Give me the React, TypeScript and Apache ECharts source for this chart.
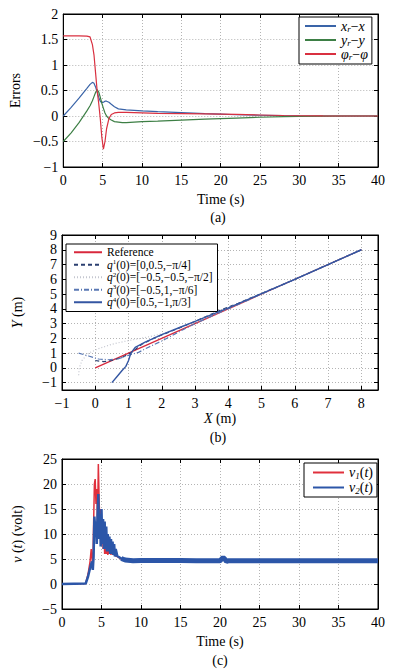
import React, { useEffect, useRef } from "react";
import * as echarts from "echarts";

const FONT = "'Liberation Serif', 'Times New Roman', Times, serif";

// ---------- (a) tracking errors ----------
const timeA = [0, 1, 2, 3, 3.4, 3.7, 3.9, 4.1, 4.3, 4.5, 4.7, 4.9, 5.1, 5.3, 5.5, 5.8, 6.1, 6.5, 7, 7.5, 8, 9, 10, 12, 15, 18, 20, 22, 25, 28, 30, 33, 36, 40];
const errX = [0, 0.17, 0.35, 0.54, 0.62, 0.66, 0.64, 0.57, 0.47, 0.37, 0.29, 0.26, 0.27, 0.29, 0.29, 0.27, 0.23, 0.18, 0.14, 0.13, 0.12, 0.11, 0.1, 0.085, 0.065, 0.045, 0.035, 0.025, 0.015, 0.007, 0.003, 0, 0, 0];
const errY = [-0.5, -0.33, -0.13, 0.1, 0.2, 0.3, 0.38, 0.46, 0.52, 0.47, 0.37, 0.25, 0.15, 0.06, 0, -0.05, -0.08, -0.11, -0.12, -0.13, -0.13, -0.12, -0.11, -0.1, -0.08, -0.06, -0.05, -0.04, -0.025, -0.012, -0.006, -0.002, 0, 0];
const errPhi = [1.57, 1.57, 1.57, 1.565, 1.55, 1.4, 1.2, 0.85, 0.5, 0.25, -0.05, -0.42, -0.65, -0.5, -0.25, -0.05, 0.03, 0.06, 0.07, 0.07, 0.07, 0.065, 0.06, 0.05, 0.045, 0.04, 0.035, 0.03, 0.02, 0.01, 0.005, 0.002, 0, 0];

// ---------- (b) trajectories in the plane ----------
const refX = [0, 8];
const refY = [0, 8];
const q1X = [0, 0.25, 0.5, 0.8, 1.1, 1.4, 1.8, 2.3, 2.8, 3.3, 3.8, 4.3, 5, 6, 8];
const q1Y = [0.5, 0.42, 0.5, 0.7, 1.05, 1.6, 2.05, 2.5, 2.95, 3.45, 3.95, 4.38, 5.04, 6, 8];
const q2X = [-0.5, -0.48, -0.4, -0.2, 0.1, 0.5, 1, 1.5, 2, 2.5, 3, 4, 8];
const q2Y = [-0.5, 0, 0.5, 1.0, 1.3, 1.6, 1.85, 2.05, 2.3, 2.7, 3.15, 4.05, 8];
const q3X = [-0.5, -0.2, 0.1, 0.4, 0.7, 1.0, 1.3, 1.6, 2, 2.5, 3, 4, 8];
const q3Y = [1, 0.8, 0.6, 0.55, 0.62, 0.85, 1.05, 1.4, 1.82, 2.42, 3.0, 4, 8];
const q4X = [0.5, 0.65, 0.8, 0.92, 1.0, 1.07, 1.2, 1.5, 2, 2.5, 3, 3.5, 4, 5, 6, 7, 8];
const q4Y = [-1, -0.6, -0.2, 0.1, 0.5, 1.0, 1.38, 1.75, 2.25, 2.7, 3.15, 3.6, 4.06, 5.03, 6, 7, 8];

// ---------- (c) control voltages ----------
const timeV1 = [0, 3.0, 3.3, 3.55, 3.7, 3.8, 3.9, 4.0, 4.1, 4.2, 4.3, 4.4, 4.5, 4.6, 4.7, 4.8, 4.9, 5.0, 5.1, 5.2, 5.3, 5.4, 5.5, 5.6, 5.7, 5.8, 5.9, 6.0, 6.1, 6.2, 6.3, 6.45, 6.6, 6.8, 7.0, 7.5, 8, 40];
const valV1 = [0, 0.1, 2, 4.5, 7, 5, 3.5, 12, 20, 21, 16, 19, 12, 24, 17, 11, 15, 8, 13, 7, 11, 6, 10.5, 6, 9.5, 5.8, 9, 6, 8.5, 5.8, 7.5, 5.8, 6.8, 5.6, 5.5, 5.0, 4.8, 4.7];
const timeV2 = [0, 3.0, 3.3, 3.6, 3.8, 3.9, 4.0, 4.1, 4.2, 4.3, 4.4, 4.5, 4.6, 4.7, 4.8, 4.9, 5.0, 5.1, 5.2, 5.3, 5.4, 5.5, 5.6, 5.7, 5.8, 5.9, 6.0, 6.1, 6.2, 6.3, 6.4, 6.5, 6.6, 6.7, 6.8, 7.0, 7.3, 7.6, 8.0];
const valV2 = [0, 0.1, 1.5, 3.5, 4.5, 2.8, 5.5, 13.5, 11, 12.5, 8, 14, 18, 9, 14, 7.5, 15, 8, 13, 7, 12.5, 7, 11.5, 6.5, 10, 6.5, 9.5, 6, 9, 6, 8.5, 5.8, 8, 5.5, 7, 5.6, 5.3, 5.0, 4.8];
const timeBand = [7.5, 8, 9, 10, 12, 15, 17, 20, 20.2, 20.4, 20.6, 20.8, 21, 25, 30, 35, 40];
const valBand = [5.1, 4.8, 4.65, 4.68, 4.68, 4.7, 4.65, 4.63, 5.0, 5.3, 5.0, 4.5, 4.63, 4.63, 4.63, 4.63, 4.63];

const pairs = (xs: number[], ys: number[]) => xs.map((x, i) => [x, ys[i]]);
const fmt = (v: number) => String(v).replace("-", "\u2212");

const tickLabel = { color: "#000", fontFamily: FONT, fontSize: 14, formatter: fmt };
const italic = { fontStyle: "italic", fontFamily: FONT, fontSize: 14, color: "#000" };

function xAxes(grid: number, min: number, max: number, interval: number | undefined, name: string, nameGap: number, extra: any = {}) {
  return [
    {
      type: "value", gridIndex: grid, min, max, interval,
      axisLine: { show: true, onZero: false, lineStyle: { color: "#000", width: 1 } },
      axisTick: { inside: true, length: 4, lineStyle: { color: "#000" } },
      axisLabel: { ...tickLabel, margin: 6, ...(extra.axisLabel || {}) },
      splitLine: { show: true, lineStyle: { color: "#b4b4b4", type: [1, 2], width: 1 } },
      name, nameLocation: "middle", nameGap,
      nameTextStyle: { fontFamily: FONT, fontSize: 14, color: "#000", rich: { i: italic } },
    },
    {
      type: "value", gridIndex: grid, position: "top", min, max, interval,
      axisLine: { show: true, onZero: false, lineStyle: { color: "#000", width: 1 } },
      axisTick: { inside: true, length: 4, lineStyle: { color: "#000" } },
      axisLabel: { show: false }, splitLine: { show: false },
    },
  ];
}

function yAxes(grid: number, min: number, max: number, interval: number | undefined, name: string, nameGap: number, extra: any = {}) {
  return [
    {
      type: "value", gridIndex: grid, min, max, interval, ...(extra.axis || {}),
      axisLine: { show: true, onZero: false, lineStyle: { color: "#000", width: 1 } },
      axisTick: { inside: true, length: 4, lineStyle: { color: "#000" } },
      axisLabel: { ...tickLabel, margin: 5, ...(extra.axisLabel || {}) },
      splitLine: { show: true, lineStyle: { color: "#b4b4b4", type: [1, 2], width: 1 } },
      name, nameLocation: "middle", nameGap,
      nameTextStyle: { fontFamily: FONT, fontSize: 14, color: "#000", rich: { i: italic } },
    },
    {
      type: "value", gridIndex: grid, position: "right", min, max, interval, ...(extra.axis || {}),
      axisLine: { show: true, onZero: false, lineStyle: { color: "#000", width: 1 } },
      axisTick: { inside: true, length: 4, lineStyle: { color: "#000" } },
      axisLabel: { show: false }, splitLine: { show: false },
    },
  ];
}

const legendNames: Record<string, string> = {
  xr: "{i|x}{sub|r}\u2212{i|x}",
  yr: "{i|y}{sub|r}\u2212{i|y}",
  phi: "{i|\u03c6}{sub|r}\u2212{i|\u03c6}",
  ref: "Reference",
  q1: "{i|q}{sup|1}(0)=[0,0.5,\u2212\u03c0/4]",
  q2: "{i|q}{sup|2}(0)=[\u22120.5,\u22120.5,\u2212\u03c0/2]",
  q3: "{i|q}{sup|3}(0)=[\u22120.5,1,\u2212\u03c0/6]",
  q4: "{i|q}{sup|4}(0)=[0.5,\u22121,\u03c0/3]",
  v1: "{i|v}{sub|1}({i|t})",
  v2: "{i|v}{sub|2}({i|t})",
};

function legendBox(data: string[], left: number, top: number, itemWidth: number, fontSize: number, lh: number, padding: number[]) {
  const small = Math.round(fontSize * 0.62);
  return {
    data, orient: "vertical", left, top, itemWidth, itemHeight: 8, itemGap: 0, padding,
    selectedMode: false, backgroundColor: "#fff", borderColor: "#000", borderWidth: 1, borderRadius: 0,
    itemStyle: { opacity: 0 },
    formatter: (n: string) => legendNames[n],
    textStyle: {
      fontFamily: FONT, fontSize, color: "#000", lineHeight: lh,
      rich: {
        i: { fontStyle: "italic", fontFamily: FONT, fontSize, color: "#000", lineHeight: lh },
        sub: { fontStyle: "italic", fontFamily: FONT, fontSize: small, color: "#000", lineHeight: small, verticalAlign: "bottom" },
        sup: { fontFamily: FONT, fontSize: small, color: "#000", lineHeight: small, verticalAlign: "top" },
      },
    },
  };
}

const line = (name: string, data: any[], xi: number, yi: number, color: string, width: number, type: any = "solid", z = 2) => ({
  name, type: "line", data, xAxisIndex: xi, yAxisIndex: yi, symbol: "none", showSymbol: false, z,
  lineStyle: { color, width, type }, itemStyle: { color }, clip: true,
});

export default function App() {
  const ref = useRef<HTMLDivElement>(null);
  useEffect(() => {
    document.body.style.margin = "0";
    const chart = echarts.init(ref.current!, null, { renderer: "svg" });
    const option: any = {
      animation: false,
      backgroundColor: "#fff",
      textStyle: { fontFamily: FONT },
      grid: [
        { left: 61, top: 14, width: 317, height: 153, show: true, borderColor: "#000", borderWidth: 1, backgroundColor: "transparent" },
        { left: 62, top: 235, width: 316, height: 155, show: true, borderColor: "#000", borderWidth: 1, backgroundColor: "transparent" },
        { left: 62, top: 459, width: 316, height: 150, show: true, borderColor: "#000", borderWidth: 1, backgroundColor: "transparent" },
      ],
      xAxis: [
        ...xAxes(0, 0, 40, 5, "Time (s)", 25),
        ...xAxes(1, -1, 8.5, 1, "{i|X} (m)", 21, { axisLabel: { showMaxLabel: false } }),
        ...xAxes(2, 0, 40, 5, "Time (s)", 25),
      ],
      yAxis: [
        ...yAxes(0, -1, 2, 0.5, "Errors", 38),
        ...yAxes(1, -1.5, 9, undefined, "{i|Y} (m)", 38, { axis: { splitNumber: 10 }, axisLabel: { showMinLabel: false } }),
        ...yAxes(2, -5, 25, 5, "{i|v} ({i|t}) (volt)", 38),
      ],
      legend: [
        legendBox(["xr", "yr", "phi"], 299, 17, 31, 14, 14, [2, 4, 3, 5]),
        legendBox(["ref", "q1", "q2", "q3", "q4"], 66, 244, 28, 11.5, 12.5, [2, 5, 3, 7]),
        legendBox(["v1", "v2"], 304, 463, 31, 14, 15, [2, 4, 2, 8]),
      ],
      graphic: [
        { type: "text", x: 218, y: 217, style: { text: "(a)", fontSize: 14, fontFamily: FONT, fill: "#000", align: "center", verticalAlign: "middle" } },
        { type: "text", x: 218, y: 437, style: { text: "(b)", fontSize: 14, fontFamily: FONT, fill: "#000", align: "center", verticalAlign: "middle" } },
        { type: "text", x: 220, y: 660, style: { text: "(c)", fontSize: 14, fontFamily: FONT, fill: "#000", align: "center", verticalAlign: "middle" } },
      ],
      series: [
        line("xr", pairs(timeA, errX), 0, 0, "#3a64a8", 1.2),
        line("yr", pairs(timeA, errY), 0, 0, "#3d7f45", 1.2),
        line("phi", pairs(timeA, errPhi), 0, 0, "#d93040", 1.2),

        line("ref", pairs(refX, refY), 2, 2, "#d8283c", 1.2, "solid", 2),
        line("q1", pairs(q1X, q1Y), 2, 2, "#2b3f70", 1.2, [4, 3], 3),
        line("q2", pairs(q2X, q2Y), 2, 2, "#c4c6cf", 1.2, [1, 2], 3),
        line("q3", pairs(q3X, q3Y), 2, 2, "#5a78b4", 1.2, [5, 2, 1, 2], 3),
        line("q4", pairs(q4X, q4Y), 2, 2, "#3456a2", 1.4, "solid", 4),

        line("v1", pairs(timeV1, valV1), 4, 4, "#e0303c", 1.5, "solid", 2),
        line("v2", pairs(timeV2, valV2), 4, 4, "#2c56a8", 2.5, "solid", 3),
        line("v2band", pairs(timeBand, valBand), 4, 4, "#2c56a8", 5, "solid", 3),
      ],
    };
    chart.setOption(option);
    return () => chart.dispose();
  }, []);
  return <div ref={ref} style={{ width: 398, height: 671, position: "absolute", left: 0, top: 0 }} />;
}
